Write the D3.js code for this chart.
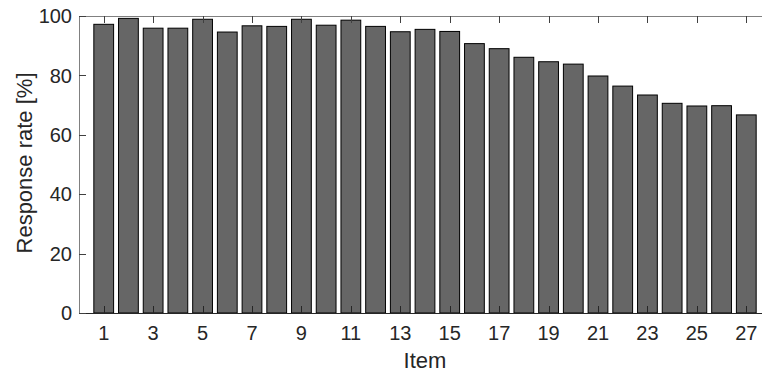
<!DOCTYPE html>
<html>
<head>
<meta charset="utf-8">
<script src="https://cdn.jsdelivr.net/npm/d3@7"></script>
<style>
  body { margin: 0; background: #fff; }
  svg { display: block; font-family: "Liberation Sans", Arial, sans-serif; }
</style>
</head>
<body>
<svg id="chart" width="762" height="374"></svg>
<script>
// response rate per item
const items = d3.range(1, 28);
const rates = [97.2, 99.2, 95.9, 95.9, 98.9, 94.6, 96.7, 96.5, 98.9, 96.9,
  98.6, 96.5, 94.7, 95.5, 94.8, 90.7, 89.0, 86.1, 84.6, 83.8,
  79.8, 76.4, 73.4, 70.6, 69.7, 69.8, 66.7];
const xTicks = [1, 3, 5, 7, 9, 11, 13, 15, 17, 19, 21, 23, 25, 27];
const yTicks = [0, 20, 40, 60, 80, 100];

const axLeft = 79, axTop = 16, axBottom = 313, axRight = 771;

const svg = d3.select('#chart');

const x = d3.scaleLinear().domain([0, 28]).range([axLeft, axRight]);
const y = d3.scaleLinear().domain([0, 100]).range([axBottom, axTop]);
const barW = x(0.8) - x(0);

// bars
svg.append('g')
  .selectAll('rect')
  .data(items)
  .enter().append('rect')
  .attr('x', function (d) { return x(d) - barW / 2; })
  .attr('y', function (d, i) { return y(rates[i]); })
  .attr('width', barW)
  .attr('height', function (d, i) { return y(0) - y(rates[i]); })
  .attr('fill', '#666666')
  .attr('stroke', '#000')
  .attr('stroke-width', 1);

// box lines
svg.append('line')
  .attr('x1', axLeft).attr('x2', axRight)
  .attr('y1', axTop + 0.5).attr('y2', axTop + 0.5)
  .attr('stroke', '#808080');
svg.append('line')
  .attr('x1', axLeft + 0.5).attr('x2', axLeft + 0.5)
  .attr('y1', axTop).attr('y2', axBottom)
  .attr('stroke', '#808080');
svg.append('line')
  .attr('x1', axLeft).attr('x2', axRight)
  .attr('y1', axBottom + 0.5).attr('y2', axBottom + 0.5)
  .attr('stroke', '#262626');

// x ticks, inside, top and bottom
const tickLen = 7;
const xt = svg.append('g').selectAll('g')
  .data(xTicks)
  .enter().append('g');
xt.append('line')
  .attr('x1', function (d) { return Math.round(x(d)) + 0.5; })
  .attr('x2', function (d) { return Math.round(x(d)) + 0.5; })
  .attr('y1', axBottom)
  .attr('y2', axBottom - tickLen)
  .attr('stroke', '#262626');
xt.append('line')
  .attr('x1', function (d) { return Math.round(x(d)) + 0.5; })
  .attr('x2', function (d) { return Math.round(x(d)) + 0.5; })
  .attr('y1', axTop)
  .attr('y2', axTop + tickLen)
  .attr('stroke', '#404040');
xt.append('text')
  .attr('x', function (d) { return x(d); })
  .attr('y', 340)
  .attr('text-anchor', 'middle')
  .attr('font-size', 20)
  .attr('fill', '#262626')
  .text(function (d) { return d; });

// y ticks
const yt = svg.append('g').selectAll('g')
  .data(yTicks)
  .enter().append('g');
yt.append('line')
  .attr('x1', axLeft)
  .attr('x2', axLeft + tickLen)
  .attr('y1', function (d) { return Math.round(y(d)) + 0.5; })
  .attr('y2', function (d) { return Math.round(y(d)) + 0.5; })
  .attr('stroke', '#404040');
yt.append('text')
  .attr('x', 72)
  .attr('y', function (d) { return y(d) + 7.2; })
  .attr('text-anchor', 'end')
  .attr('font-size', 20)
  .attr('fill', '#262626')
  .text(function (d) { return d; });

// axis labels
svg.append('text')
  .attr('x', (axLeft + axRight) / 2)
  .attr('y', 368)
  .attr('text-anchor', 'middle')
  .attr('font-size', 22)
  .attr('fill', '#262626')
  .text('Item');

svg.append('text')
  .attr('transform', 'translate(32,163) rotate(-90)')
  .attr('text-anchor', 'middle')
  .attr('font-size', 22)
  .attr('fill', '#262626')
  .text('Response rate [%]');
</script>
</body>
</html>
